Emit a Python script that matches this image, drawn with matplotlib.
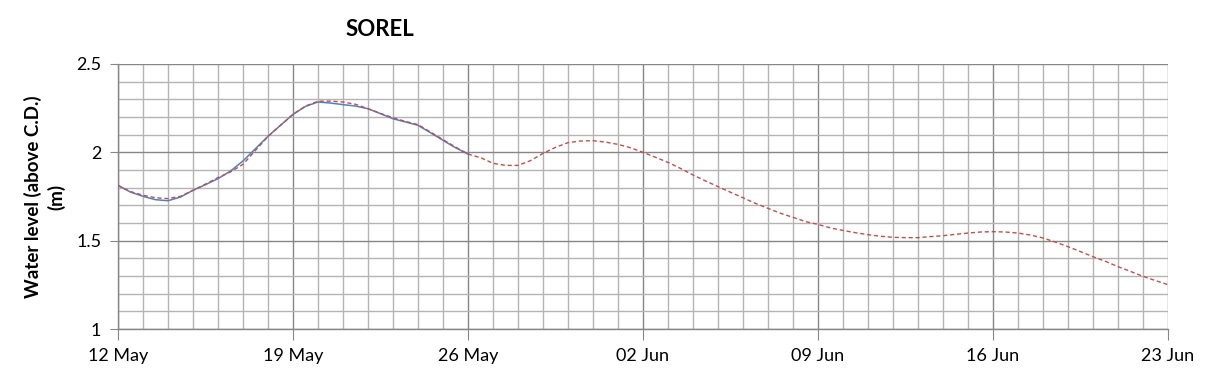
import numpy as np
import pandas as pd
import matplotlib
matplotlib.use("Agg")
import matplotlib.pyplot as plt
import matplotlib.dates as mdates

plt.rcParams["font.family"] = ["Lato", "DejaVu Sans"]

# ── Data (every 12 h) ────────────────────────────────────────────────────────

obs_dates = pd.date_range("2014-05-12", "2014-05-26", freq="12h")
obs_level = [1.813, 1.775, 1.751, 1.732, 1.726, 1.747, 1.785, 1.817, 1.851,
             1.894, 1.951, 2.021, 2.091, 2.153, 2.215, 2.260, 2.285, 2.279,
             2.270, 2.262, 2.247, 2.219, 2.190, 2.172, 2.153, 2.111, 2.068,
             2.026, 1.990]

fc_dates = pd.date_range("2014-05-12", "2014-06-23", freq="12h")
fc_level = [
    # 12 May - 26 May
    1.813, 1.778, 1.757, 1.743, 1.738, 1.751, 1.785, 1.820, 1.857, 1.889,
    1.932, 2.011, 2.090, 2.153, 2.215, 2.262, 2.289, 2.290, 2.285, 2.272,
    2.247, 2.220, 2.196, 2.175, 2.157, 2.115, 2.072, 2.030, 1.990,
    # 26 May 12h - 31 May 12h
    1.970, 1.938, 1.926, 1.926, 1.953, 1.994, 2.028, 2.055, 2.064, 2.066,
    2.058,
    # 01 Jun - 23 Jun
    2.045, 2.026, 2.000, 1.972, 1.943, 1.909, 1.872, 1.838, 1.806, 1.774,
    1.743, 1.711, 1.683, 1.655, 1.632, 1.608, 1.592, 1.572, 1.558, 1.545,
    1.534, 1.525, 1.519, 1.517, 1.517, 1.523, 1.528, 1.536, 1.543, 1.549,
    1.551, 1.549, 1.543, 1.532, 1.515, 1.492, 1.466, 1.438, 1.409, 1.383,
    1.353, 1.326, 1.298, 1.274, 1.251,
]

# ── Plot ─────────────────────────────────────────────────────────────────────

fig = plt.figure(figsize=(12.09, 3.78), dpi=100)
ax = fig.add_axes([118 / 1209, 1 - 329 / 378, 1050 / 1209, 265 / 378])

ax.plot(obs_dates, obs_level, color="#4f81bd", linewidth=1.1, zorder=3)
ax.plot(fc_dates, fc_level, color="#c0504d", linewidth=1.0,
        linestyle=(0, (3, 2)), zorder=4)

ax.set_xlim(pd.Timestamp("2014-05-12"), pd.Timestamp("2014-06-23"))
ax.set_ylim(1, 2.5)

ax.xaxis.set_major_locator(mdates.WeekdayLocator(byweekday=mdates.MO))
ax.xaxis.set_minor_locator(mdates.DayLocator())
ax.xaxis.set_major_formatter(mdates.DateFormatter("%d %b"))
ax.set_yticks([1, 1.5, 2, 2.5])
ax.set_yticklabels(["1", "1.5", "2", "2.5"])
ax.set_yticks(np.arange(1, 2.5, 0.1), minor=True)

ax.grid(which="minor", color="#b4b4b4", linewidth=1.0)
ax.grid(which="major", color="#868686", linewidth=1.0)
ax.set_axisbelow(True)

for side in ["top", "right"]:
    ax.spines[side].set_visible(False)
for side in ["left", "bottom"]:
    ax.spines[side].set_color("#868686")
    ax.spines[side].set_linewidth(1.0)

ax.tick_params(axis="x", which="major", length=8, color="#868686",
               labelsize=13, pad=6)
ax.tick_params(axis="y", which="major", length=6, color="#868686",
               labelsize=13, pad=6)
ax.tick_params(which="minor", length=0)

ax.set_ylabel("Water level (above C.D.)\n(m)", fontsize=13.5,
              fontweight="bold", labelpad=8, linespacing=1.3)

fig.text(380 / 1209, 1 - 30 / 378, "SOREL", fontsize=16, fontweight="bold",
         ha="center", va="center")

fig.savefig("out.png", dpi=100)
